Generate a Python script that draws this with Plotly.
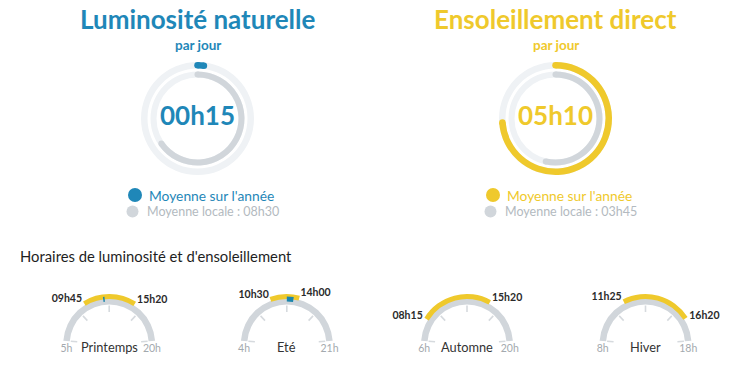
import plotly.graph_objects as go

# ---------------- data ----------------
donut_titles = ["Luminosité naturelle", "Ensoleillement direct"]
donut_subtitle = "par jour"
donut_year_min = [15, 310]        # 00h15, 05h10
donut_local_min = [510, 225]      # 08h30, 03h45
donut_scale_min = [780, 420]      # minutes represented by a full turn
legend_year = "Moyenne sur l'année"
legend_local = "Moyenne locale : "

section_title = "Horaires de luminosité et d'ensoleillement"
seasons = ["Printemps", "Eté", "Automne", "Hiver"]
range_start_h = [5, 4, 6, 8]
range_end_h = [20, 21, 20, 18]
sun_start = ["09h45", "10h30", "08h15", "11h25"]
sun_end = ["15h20", "14h00", "15h20", "16h20"]
light_start = ["11h50", "12h30", None, None]
light_end = ["12h00", "13h20", None, None]

# ---------------- style / layout ----------------
W, H = 736, 368
BLUE = "#1f87b8"
YELLOW = "#efc92c"
GREY = "#d1d6db"
TRACK = "#eff2f5"
FONT = "Lato"
donut_colors = [BLUE, YELLOW]
donut_cx = [197.5, 555.5]
donut_cy = 118.5
DR = 58
gauge_cx = [109.2, 286.8, 467.0, 645.5]
gauge_cy = 344
GR = 56
ARC0, ARCSPAN = 4, 172


def to_min(s):
    h, m = s.split("h")
    return int(h) * 60 + int(m)


def fmt(m):
    return "%02dh%02d" % (m // 60, m % 60)


def px(x, y):
    return x / W, 1 - y / H


fig = go.Figure()
layout_polars = {}
annotations = []
shapes = []

# ---------------- donuts ----------------
for i in range(2):
    name = "polar" if i == 0 else "polar%d" % (i + 1)
    sub = name
    cx = donut_cx[i]
    layout_polars[name] = dict(
        domain=dict(x=[(cx - DR) / W, (cx + DR) / W],
                    y=[(H - donut_cy - DR) / H, (H - donut_cy + DR) / H]),
        bgcolor="rgba(0,0,0,0)",
        radialaxis=dict(visible=False, range=[0, DR]),
        angularaxis=dict(visible=False, rotation=90, direction="clockwise"),
    )
    # tracks
    for base, thick in [(41, 6), (50, 6.5)]:
        fig.add_trace(go.Barpolar(r=[thick], base=[base], theta=[180], width=[360],
                                  marker=dict(color=TRACK, line=dict(width=0)),
                                  subplot=sub, showlegend=False, hoverinfo="skip"))
    # local (grey inner) and yearly (colored outer)
    for val, base, thick, col in [(donut_local_min[i], 41, 6, GREY),
                                  (donut_year_min[i], 50, 6.5, donut_colors[i])]:
        ang = val / donut_scale_min[i] * 360
        fig.add_trace(go.Barpolar(r=[thick], base=[base], theta=[ang / 2], width=[ang],
                                  marker=dict(color=col, line=dict(width=0)),
                                  subplot=sub, showlegend=False, hoverinfo="skip"))
        fig.add_trace(go.Scatterpolar(r=[base + thick / 2] * 2, theta=[0, ang], mode="markers",
                                      marker=dict(color=col, size=thick, line=dict(width=0)),
                                      subplot=sub, showlegend=False, hoverinfo="skip"))
    # center value
    fig.add_trace(go.Scatterpolar(r=[0], theta=[0], mode="text", text=[fmt(donut_year_min[i])],
                                  textposition="middle center",
                                  textfont=dict(family=FONT, size=26, color=donut_colors[i], weight="bold"),
                                  subplot=sub, showlegend=False, hoverinfo="skip", cliponaxis=False))
    # titles
    x, y = px(cx, 19.5)
    annotations.append(dict(x=x, y=y, xref="paper", yref="paper", text="<b>%s</b>" % donut_titles[i],
                            showarrow=False, font=dict(family=FONT, size=26, color=donut_colors[i]),
                            xanchor="center", yanchor="middle"))
    x, y = px(cx, 45.5)
    annotations.append(dict(x=x, y=y, xref="paper", yref="paper", text="<b>%s</b>" % donut_subtitle,
                            showarrow=False, font=dict(family=FONT, size=13.5, color=donut_colors[i]),
                            xanchor="center", yanchor="middle"))
    # legend
    dx = cx - 62.5
    for (ox, oy, d, col, txt, tcol, fs, tx) in [
        (dx, 195, 14, donut_colors[i], legend_year, donut_colors[i], 13.8, dx + 12),
        (dx - 2.5, 211.5, 12, GREY, legend_local + fmt(donut_local_min[i]), "#b3bac0", 12.5, dx + 9.5)]:
        x0, y0 = px(ox - d / 2, oy - d / 2)
        x1, y1 = px(ox + d / 2, oy + d / 2)
        shapes.append(dict(type="circle", xref="paper", yref="paper", x0=x0, x1=x1, y0=y1, y1=y0,
                           fillcolor=col, line=dict(width=0)))
        x, y = px(tx, oy)
        annotations.append(dict(x=x, y=y, xref="paper", yref="paper", text=txt, showarrow=False,
                                font=dict(family=FONT, size=fs, color=tcol),
                                xanchor="left", yanchor="middle"))

# section title
x, y = px(18, 256)
annotations.append(dict(x=x, y=y, xref="paper", yref="paper", text=section_title, showarrow=False,
                        font=dict(family=FONT, size=14.8, color="#1e1e1e"),
                        xanchor="left", yanchor="middle"))

# ---------------- gauges ----------------
for k in range(4):
    idx = k + 3
    name = "polar%d" % idx
    sub = name
    cx = gauge_cx[k]
    layout_polars[name] = dict(
        domain=dict(x=[(cx - GR) / W, (cx + GR) / W],
                    y=[(H - gauge_cy) / H, (H - gauge_cy + GR) / H]),
        sector=[0, 180],
        bgcolor="rgba(0,0,0,0)",
        radialaxis=dict(visible=False, range=[0, GR]),
        angularaxis=dict(visible=False, rotation=180, direction="clockwise"),
    )
    t0, t1 = range_start_h[k] * 60, range_end_h[k] * 60

    def th(m):
        return ARC0 + (m - t0) / (t1 - t0) * ARCSPAN

    # grey track
    fig.add_trace(go.Barpolar(r=[6.5], base=[39.5], theta=[ARC0 + ARCSPAN / 2], width=[ARCSPAN],
                              marker=dict(color=GREY, line=dict(width=0)),
                              subplot=sub, showlegend=False, hoverinfo="skip"))
    # ticks
    tr, tt = [], []
    for j in range(5):
        a = ARC0 + j * ARCSPAN / 4
        tr += [32, 38.5, None]
        tt += [a, a, None]
    fig.add_trace(go.Scatterpolar(r=tr, theta=tt, mode="lines", line=dict(color="#d6dade", width=1.6),
                                  subplot=sub, showlegend=False, hoverinfo="skip"))
    # sunshine
    s0, s1 = th(to_min(sun_start[k])), th(to_min(sun_end[k]))
    fig.add_trace(go.Barpolar(r=[5], base=[45], theta=[(s0 + s1) / 2], width=[s1 - s0],
                              marker=dict(color=YELLOW, line=dict(width=0)),
                              subplot=sub, showlegend=False, hoverinfo="skip"))
    # natural luminosity
    if light_start[k]:
        l0, l1 = th(to_min(light_start[k])), th(to_min(light_end[k]))
        fig.add_trace(go.Barpolar(r=[5], base=[42.5], theta=[(l0 + l1) / 2], width=[l1 - l0],
                                  marker=dict(color="#1b86ad", line=dict(width=0)),
                                  subplot=sub, showlegend=False, hoverinfo="skip"))
    # endpoint labels
    pos = ["middle left" if a < 90 else "middle right" for a in (s0, s1)]
    fig.add_trace(go.Scatterpolar(r=[52, 52], theta=[s0, s1], mode="text",
                                  text=[sun_start[k], sun_end[k]], textposition=pos,
                                  textfont=dict(family=FONT, size=10.5, color="#2a2a2a", weight="bold"),
                                  subplot=sub, showlegend=False, hoverinfo="skip", cliponaxis=False))
    # range labels
    fig.add_trace(go.Scatterpolar(r=[42.75, 42.75], theta=[0, 180], mode="text",
                                  text=["%dh" % range_start_h[k], "%dh" % range_end_h[k]],
                                  textposition="bottom center",
                                  textfont=dict(family=FONT, size=10.5, color="#a3a9ae"),
                                  subplot=sub, showlegend=False, hoverinfo="skip", cliponaxis=False))
    # season name
    x, y = px(cx, 347)
    annotations.append(dict(x=x, y=y, xref="paper", yref="paper", text=seasons[k], showarrow=False,
                            font=dict(family=FONT, size=12.8, color="#333333"),
                            xanchor="center", yanchor="middle"))

fig.update_layout(width=W, height=H, margin=dict(l=0, r=0, t=0, b=0),
                  paper_bgcolor="white", plot_bgcolor="white",
                  annotations=annotations, shapes=shapes, showlegend=False,
                  **layout_polars)

fig.write_html("out.html")
